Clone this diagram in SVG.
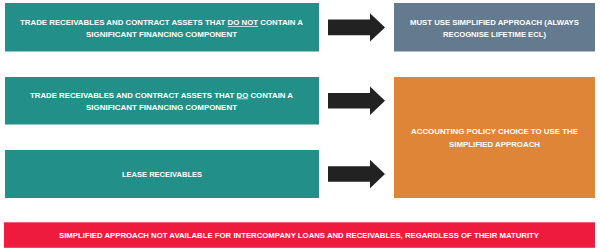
<svg xmlns="http://www.w3.org/2000/svg" xmlns:xlink="http://www.w3.org/1999/xlink" width="600" height="251" viewBox="0 0 600 251">
<style>
.t{font-family:"Liberation Sans",Arial,sans-serif;font-weight:bold;font-size:7px;fill:#ffffff;text-anchor:middle}
.teal{fill:#228f89}
.u{text-decoration:underline}
</style>
<defs>
<path id="arr" d="M0,-7.8 L42,-7.8 L42,-14.2 L57,0 L42,14.2 L42,7.8 L0,7.8 Z" fill="#222222"/>
</defs>
<rect width="600" height="251" fill="#ffffff"/>
<g id="node-no-sfc">
<rect class="teal" x="5" y="3" width="314" height="48.5"/>
<text class="t" x="161.5" y="25.3" textLength="283" lengthAdjust="spacingAndGlyphs">TRADE RECEIVABLES AND CONTRACT ASSETS THAT <tspan class="u">DO NOT</tspan> CONTAIN A</text>
<text class="t" x="161.5" y="37" textLength="151" lengthAdjust="spacingAndGlyphs">SIGNIFICANT FINANCING COMPONENT</text>
</g>
<g id="node-sfc">
<rect class="teal" x="5" y="77" width="314" height="47.5"/>
<text class="t" x="161.5" y="97.5" textLength="263" lengthAdjust="spacingAndGlyphs">TRADE RECEIVABLES AND CONTRACT ASSETS THAT <tspan class="u">DO</tspan> CONTAIN A</text>
<text class="t" x="161.5" y="110" textLength="151" lengthAdjust="spacingAndGlyphs">SIGNIFICANT FINANCING COMPONENT</text>
</g>
<g id="node-lease">
<rect class="teal" x="5" y="150" width="314" height="48"/>
<text class="t" x="162" y="176.7" textLength="80" lengthAdjust="spacingAndGlyphs">LEASE RECEIVABLES</text>
</g>
<g id="node-must">
<rect fill="#647a8f" x="394" y="3" width="201" height="48.5"/>
<text class="t" x="494.5" y="24.6" textLength="169" lengthAdjust="spacingAndGlyphs">MUST USE SIMPLIFIED APPROACH (ALWAYS</text>
<text class="t" x="494.5" y="37" textLength="103" lengthAdjust="spacingAndGlyphs">RECOGNISE LIFETIME ECL)</text>
</g>
<g id="node-choice">
<rect fill="#de8537" x="394" y="77" width="201" height="121"/>
<text class="t" x="494.5" y="134" textLength="167" lengthAdjust="spacingAndGlyphs">ACCOUNTING POLICY CHOICE TO USE THE</text>
<text class="t" x="494.5" y="146.7" textLength="91" lengthAdjust="spacingAndGlyphs">SIMPLIFIED APPROACH</text>
</g>
<g id="node-note">
<rect fill="#ee1b3e" x="4" y="222.3" width="591" height="25.5"/>
<text class="t" x="299" y="238.3" textLength="480" lengthAdjust="spacingAndGlyphs">SIMPLIFIED APPROACH NOT AVAILABLE FOR INTERCOMPANY LOANS AND RECEIVABLES, REGARDLESS OF THEIR MATURITY</text>
</g>
<g id="connectors">
<use xlink:href="#arr" x="328" y="27.4"/>
<use xlink:href="#arr" x="328" y="100.7"/>
<use xlink:href="#arr" x="328" y="174"/>
</g>
</svg>
